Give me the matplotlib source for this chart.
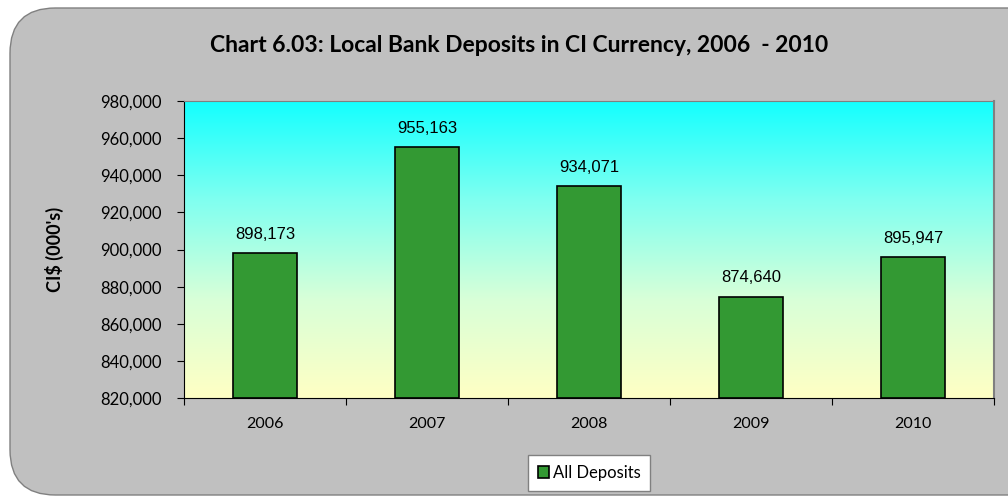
import matplotlib

matplotlib.use("Agg")
import matplotlib.pyplot as plt
import numpy as np
from matplotlib.colors import LinearSegmentedColormap
from matplotlib.patches import FancyBboxPatch, Rectangle
from matplotlib.ticker import FuncFormatter

# data
years = ["2006", "2007", "2008", "2009", "2010"]
deposits = [898173, 955163, 934071, 874640, 895947]
y_ticks = [820000, 840000, 860000, 880000, 900000, 920000, 940000, 960000, 980000]

W, H = 1008, 499
fig = plt.figure(figsize=(W / 100, H / 100), dpi=100)
fig.patch.set_facecolor("white")

# rounded gray chart area
bg = FancyBboxPatch(
    (10 / W, 4 / H), 1.1, (H - 12) / H,
    boxstyle="round,pad=0,rounding_size=0.045",
    transform=fig.transFigure, facecolor="#c0c0c0", edgecolor="#808080",
    linewidth=1.0, mutation_aspect=W / H, zorder=-5,
)
fig.patches.append(bg)

ax = fig.add_axes([184 / W, 1 - 398 / H, (994 - 184) / W, (398 - 101) / H])
ax.set_zorder(1)
ax.set_xlim(0, len(years))
ax.set_ylim(820000, 980000)

# gradient plot area
cmap = LinearSegmentedColormap.from_list("grad", ["#ffffc4", "#d8ffd8", "#80fff0", "#14ffff"])
grad = np.linspace(0, 1, 256).reshape(-1, 1)
ax.imshow(grad, cmap=cmap, aspect="auto", origin="lower",
          extent=[0, len(years), 820000, 980000], zorder=0)

x = np.arange(len(years)) + 0.5
ax.bar(x, [d - 820000 for d in deposits], bottom=820000, width=0.4,
       color="#339933", edgecolor="black", linewidth=1.2, zorder=2)

for xi, d in zip(x, deposits):
    ax.annotate(f"{d:,}", (xi, d), xytext=(0, 8), textcoords="offset points",
                ha="center", va="bottom", fontsize=12, family="Liberation Sans")

ax.set_yticks(y_ticks)
ax.yaxis.set_major_formatter(FuncFormatter(lambda v, p: f"{int(v):,}"))
ax.set_xticks(np.arange(len(years) + 1))
ax.set_xticklabels([])
ax.set_xticks(x, minor=True)
ax.set_xticklabels(years, minor=True)
ax.tick_params(axis="x", which="minor", length=0, pad=14, labelsize=11.5)
ax.tick_params(axis="x", which="major", length=5, direction="out")
ax.tick_params(axis="y", length=5, direction="out", labelsize=12, pad=11)
for lbl in ax.get_yticklabels() + ax.get_xticklabels(minor=True):
    lbl.set_family("Lato")

ax.spines["left"].set_color("black")
ax.spines["bottom"].set_color("black")
ax.spines["top"].set_color("#808080")
ax.spines["right"].set_color("#808080")
ax.spines["right"].set_linewidth(1.5)

ax.set_ylabel("CI$ (000's)", fontsize=13, fontweight="bold", family="Lato", labelpad=26)

fig.text(519 / W, 1 - 46 / H, "Chart 6.03: Local Bank Deposits in CI Currency, 2006  - 2010",
         ha="center", va="center", fontsize=16.5, fontweight="bold", family="Lato")

# legend
leg = fig.legend(
    handles=[Rectangle((0, 0), 1, 1, facecolor="#339933", edgecolor="black", linewidth=1.2)],
    labels=["All Deposits"], loc="center", bbox_to_anchor=(589 / W, 1 - 473 / H),
    frameon=True, fancybox=False, framealpha=1, handlelength=0.7, handleheight=0.7,
    handletextpad=0.2, borderpad=0.6, prop={"family": "Lato", "size": 12},
)
leg.get_frame().set_facecolor("white")
leg.get_frame().set_edgecolor("#808080")
leg.get_frame().set_linewidth(1.0)

fig.savefig("out.png", dpi=100)
